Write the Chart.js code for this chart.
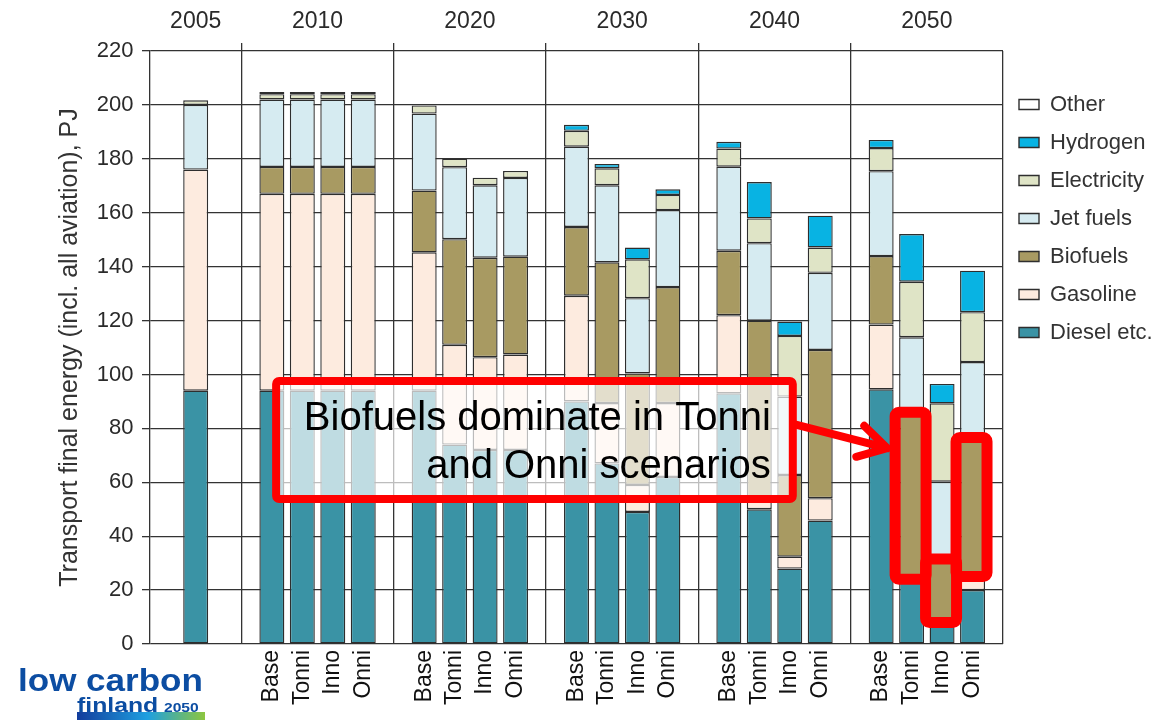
<!DOCTYPE html>
<html>
<head>
<meta charset="utf-8">
<title>Transport final energy by scenario</title>
<script src="https://cdn.jsdelivr.net/npm/chart.js@4.4.1/dist/chart.umd.min.js"></script>
<style>
  html, body { margin: 0; padding: 0; background: #ffffff; }
  #wrap { position: relative; width: 1157px; height: 720px; overflow: hidden; }
  #chart { position: absolute; left: 0; top: 0; }
  .logo { position: absolute; font-family: "Liberation Sans", Arial, sans-serif; font-weight: bold;
          color: #0c4da2; line-height: 1; white-space: nowrap; transform-origin: 0 0; }
  .logo-bar { position: absolute; left: 77px; top: 712px; width: 128px; height: 8px;
              background: linear-gradient(90deg, #123c9c 0%, #1e9fe0 55%, #8dc63f 100%); }
</style>
</head>
<body>
<div id="wrap">
  <canvas id="chart" width="1157" height="720"></canvas>
  <div class="logo-bar"></div>
  <div class="logo" style="left:18px; top:665px; font-size:31px; transform:scaleX(1.13);">low carbon</div>
  <div class="logo" style="left:77px; top:694px; font-size:21px; transform:scaleX(1.18);">finland</div>
  <div class="logo" style="left:164px; top:701px; font-size:13px; transform:scaleX(1.2);">2050</div>
</div>
<script>
// Years shown along the top and scenario names under each bar
const years = ['2005', '2010', '2020', '2030', '2040', '2050'];
const scenarios = ['Base', 'Tonni', 'Inno', 'Onni'];

// Energy use, PJ. Bar order: 2005, then Base/Tonni/Inno/Onni for 2010, 2020, 2030, 2040, 2050
const diesel      = [94,   94, 94, 94, 94,   94, 74, 72, 72,         90, 67, 49, 62,         93, 50, 28, 45.8,       94.5, 24, 8, 20];
const gasoline    = [82,   73, 73, 73, 73,   51.3, 37, 34.4, 35.4,   39.2, 22.4, 10, 27.4,   29, 3, 4.4, 8.3,        24, 0, 0, 5];
const biofuels    = [0,    10, 10, 10, 10,   22.9, 39.2, 36.9, 36.3, 25.5, 52.2, 41.4, 43,   23.9, 67, 30.3, 55,     25.4, 62, 23.5, 51.6];
const jetFuels    = [24,   25, 25, 25, 25,   28.6, 26.7, 26.9, 29.2, 29.8, 28.6, 27.9, 28.6, 31.2, 28.7, 29.1, 28.6, 31.5, 27.8, 28.7, 28];
const electricity = [1.7,  2, 2, 2, 2,       3, 3.2, 2.8, 2.6,       5.9, 6.3, 14.4, 5.6,    6.7, 9.2, 22.5, 9.4,    8.6, 20.6, 29.1, 18.5];
const hydrogen    = [0,    0, 0, 0, 0,       0, 0, 0, 0,             2.2, 1.6, 4.4, 2.1,     2.5, 13.5, 5.3, 11.8,   3, 17.7, 7.2, 15.4];
const other       = [0,    0.8, 0.8, 0.8, 0.8, 0, 0, 0, 0,           0, 0, 0, 0,             0, 0, 0, 0,             0, 0, 0, 0];

const seriesNames  = ['Diesel etc.', 'Gasoline', 'Biofuels', 'Jet fuels', 'Electricity', 'Hydrogen', 'Other'];
const seriesValues = [diesel, gasoline, biofuels, jetFuels, electricity, hydrogen, other];
const seriesColors = ['#3a93a5', '#fdebdf', '#a89a62', '#d6ebf1', '#dfe4c6', '#08b3e3', '#ffffff'];

const yTicks = [0, 20, 40, 60, 80, 100, 120, 140, 160, 180, 200, 220];

const noteLines = ['Biofuels dominate in Tonni', 'and Onni scenarios'];
const highlightScenarios = ['Tonni', 'Inno', 'Onni'];   // 2050 bars whose biofuel share is outlined
const highlightYear = '2050';

// ---- layout in slot units: 2005 takes 3 slots, every later year takes 5 ----
const FONT = '"Liberation Sans", Arial, Helvetica, sans-serif';
Chart.defaults.font.family = FONT;

const barYear = i => (i === 0 ? years[0] : years[1 + Math.floor((i - 1) / 4)]);
const barScenario = i => (i === 0 ? '' : scenarios[(i - 1) % 4]);
const barPos = i => (i === 0 ? 1.5 : 4 + 5 * Math.floor((i - 1) / 4) + ((i - 1) % 4));
const slotMax = 3 + 5 * (years.length - 1);
const separators = years.slice(1).map((_, g) => 3 + 5 * g);
const yearCenters = years.map((_, g) => (g === 0 ? 1.5 : 5.5 + 5 * (g - 1)));

const barCount = diesel.length;
const barIndices = Array.from({ length: barCount }, (_, i) => i);

const datasets = seriesNames.map((name, k) => ({
  label: name,
  data: barIndices.map(i => ({ x: barPos(i), y: seriesValues[k][i] })),
  backgroundColor: seriesColors[k],
  borderColor: '#2e2e2e',
  borderWidth: 1.4,
  borderSkipped: false,
  categoryPercentage: 1,
  barPercentage: 0.82
}));

const GRID = '#333333';

// Callout box, arrow and outlines drawn over the bars
const notePlugin = {
  id: 'scenarioNote',
  afterDraw(chart) {
    const { ctx, scales: { x, y } } = chart;
    const bioMeta = chart.getDatasetMeta(seriesNames.indexOf('Biofuels'));
    const rr = (x0, y0, w, h, r) => {
      ctx.beginPath();
      if (ctx.roundRect) ctx.roundRect(x0, y0, w, h, r); else ctx.rect(x0, y0, w, h);
    };
    ctx.save();

    // outlines around the biofuel segments
    ctx.strokeStyle = '#ff0000';
    ctx.lineJoin = 'round';
    ctx.lineCap = 'round';
    ctx.lineWidth = 11;
    const outlines = [];
    barIndices.filter(i => barYear(i) === highlightYear && highlightScenarios.includes(barScenario(i)))
      .forEach(i => {
        const el = bioMeta.data[i];
        const p = el.getProps(['x', 'y', 'base', 'width'], true);
        const left = p.x - p.width / 2 - 4;
        const top = Math.min(p.y, p.base);
        const r = { left, top, w: p.width + 6, h: Math.abs(p.base - p.y), scen: barScenario(i) };
        outlines.push(r);
        rr(r.left, r.top, r.w, r.h, 4);
        ctx.stroke();
      });

    // translucent callout box
    const bx0 = x.getPixelForValue(4.14), bx1 = x.getPixelForValue(21.1);
    const by0 = y.getPixelForValue(97.6), by1 = y.getPixelForValue(53.8);
    ctx.fillStyle = 'rgba(255,255,255,0.68)';
    ctx.fillRect(bx0, by0, bx1 - bx0, by1 - by0);
    ctx.lineWidth = 8;
    rr(bx0, by0, bx1 - bx0, by1 - by0, 3);
    ctx.stroke();

    ctx.fillStyle = '#000000';
    ctx.font = '40px ' + FONT;
    ctx.textAlign = 'right';
    ctx.textBaseline = 'alphabetic';
    ctx.fillText(noteLines[0], bx1 - 22, by0 + 49);
    ctx.fillText(noteLines[1], bx1 - 22, by0 + 97);

    // arrow towards the 2050 Tonni bar
    const target = outlines.find(o => o.scen === 'Tonni');
    const sx = bx1 + 4, sy = by0 + 44;
    const tx = target.left - 8, ty = target.top + 36;
    const ang = Math.atan2(ty - sy, tx - sx);
    const head = 32, spread = Math.PI / 6;
    ctx.lineWidth = 8;
    ctx.beginPath();
    ctx.moveTo(sx, sy);
    ctx.lineTo(tx, ty);
    ctx.moveTo(tx - head * Math.cos(ang - spread), ty - head * Math.sin(ang - spread));
    ctx.lineTo(tx, ty);
    ctx.lineTo(tx - head * Math.cos(ang + spread), ty - head * Math.sin(ang + spread));
    ctx.stroke();

    ctx.restore();
  }
};

new Chart(document.getElementById('chart'), {
  type: 'bar',
  data: { datasets },
  plugins: [notePlugin],
  options: {
    responsive: false,
    animation: false,
    events: [],
    layout: { padding: 0 },
    plugins: {
      tooltip: { enabled: false },
      legend: {
        position: 'right',
        align: 'start',
        fullSize: false,
        reverse: true,
        maxWidth: 154,
        title: { display: true, text: '', font: { size: 20 }, padding: { top: 2.5, bottom: 0 } },
        labels: {
          boxWidth: 20,
          boxHeight: 10,
          padding: 16,
          color: '#333333',
          font: { size: 22 }
        }
      }
    },
    scales: {
      x: {
        type: 'linear',
        position: 'bottom',
        stacked: true,
        offset: false,
        min: 0,
        max: slotMax,
        afterFit: s => { s.height = 76; },
        afterBuildTicks: s => {
          s.ticks = barIndices.filter(i => barScenario(i) !== '').map(i => ({ value: barPos(i) }));
        },
        grid: { display: false, drawTicks: false, offset: false },
        border: { display: false },
        ticks: {
          autoSkip: false,
          minRotation: 90,
          maxRotation: 90,
          padding: 6,
          color: '#111111',
          font: { size: 23 },
          callback: v => {
            const i = barIndices.find(k => barPos(k) === v);
            return i === undefined ? '' : barScenario(i);
          }
        }
      },
      xTop: {
        type: 'linear',
        position: 'top',
        offset: false,
        min: 0,
        max: slotMax,
        afterFit: s => { s.height = 51; },
        afterBuildTicks: s => {
          s.ticks = [...separators, ...yearCenters, slotMax].sort((a, b) => a - b).map(v => ({ value: v }));
        },
        grid: {
          offset: false,
          drawTicks: true,
          tickLength: 8,
          lineWidth: 1.3,
          color: c => (c.tick && (separators.includes(c.tick.value) || c.tick.value === slotMax) ? GRID : 'rgba(0,0,0,0)'),
          tickColor: c => (c.tick && separators.includes(c.tick.value) ? GRID : 'rgba(0,0,0,0)')
        },
        border: { display: false },
        ticks: {
          autoSkip: false,
          maxRotation: 0,
          padding: 8,
          color: '#2a2a2a',
          font: { size: 23 },
          callback: v => {
            const g = yearCenters.indexOf(v);
            return g < 0 ? '' : years[g];
          }
        }
      },
      y: {
        stacked: true,
        min: 0,
        max: 220,
        afterFit: s => { s.width = 150; },
        afterBuildTicks: s => { s.ticks = yTicks.map(v => ({ value: v })); },
        grid: { color: GRID, lineWidth: 1.3, tickLength: 8, tickColor: GRID },
        border: { display: true, color: GRID, width: 1.3 },
        ticks: { padding: 8.5, color: '#2a2a2a', font: { size: 22 } },
        title: {
          display: true,
          text: 'Transport final energy (incl. all aviation), PJ',
          color: '#333333',
          font: { size: 25 },
          padding: { top: 55, bottom: 0 }
        }
      }
    }
  }
});
</script>
</body>
</html>
